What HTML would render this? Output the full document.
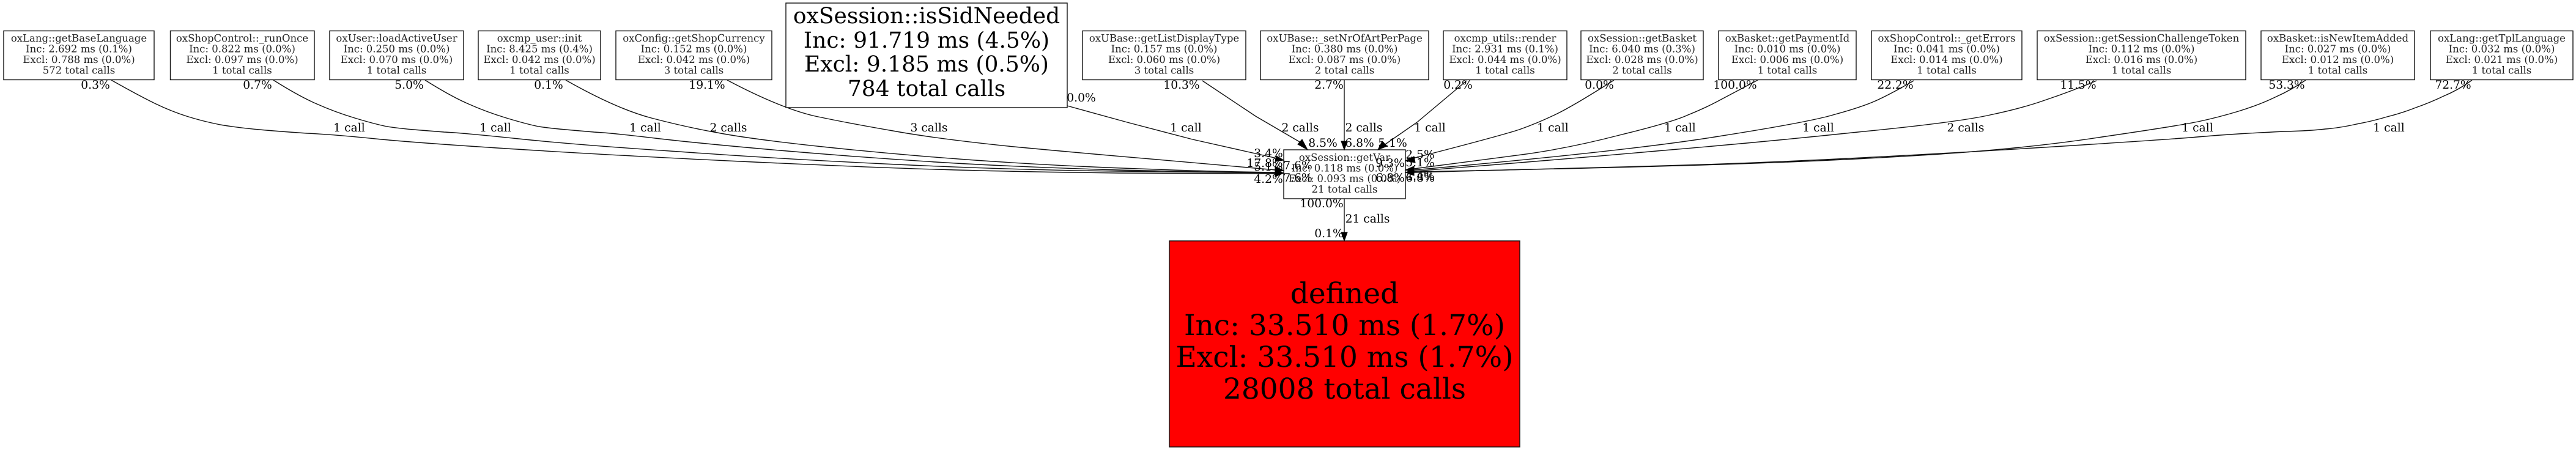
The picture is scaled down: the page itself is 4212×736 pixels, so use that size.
<!DOCTYPE html>
<html><head><meta charset="utf-8"><style>
html,body{margin:0;padding:0;background:#fff;width:4212px;height:736px;overflow:hidden}
svg{display:block}
text{font-family:"DejaVu Serif",serif;fill:#000;text-anchor:middle;text-rendering:geometricPrecision}
.n{font-size:16.5px;fill:#222}.e{font-size:18.7px}.b{font-size:36px}.d{font-size:47px}
rect{stroke:#111;stroke-width:1.4;fill:#fff}
path{fill:none;stroke:#111;stroke-width:1.4}
polygon{fill:#000;stroke:#000}
</style></head><body>
<svg width="4212" height="736" viewBox="0 0 4212 736" xmlns="http://www.w3.org/2000/svg">
<rect x="0" y="0" width="4212" height="736" style="fill:#fff;stroke:none"/>
<path d="M182,131 Q230,158 255,170 Q280,182 305,190 Q330,198 360,204 Q390,209 424,212 Q457,215 502,218 Q547,220 624,228 Q700,235 860,245 Q1020,255 1211,264 Q1403,273 1530,277 Q1658,281 1829,283 Q2000,284 2086,284"/>
<path d="M447,131 Q490,158 518,170 Q547,183 580,193 Q613,203 633,207 Q653,210 676,212 Q700,214 726,216 Q753,217 848,227 Q944,237 1110,248 Q1276,260 1467,269 Q1658,278 1829,280 Q2000,282 2086,283"/>
<path d="M695,131 Q738,158 766,170 Q795,183 828,193 Q861,203 881,207 Q901,210 925,212 Q948,214 971,216 Q995,217 1071,226 Q1148,235 1275,246 Q1403,257 1530,265 Q1658,273 1829,278 Q2000,282 2086,282"/>
<path d="M925,131 Q1008,178 1065,193 Q1122,208 1173,217 Q1224,227 1345,240 Q1467,253 1594,262 Q1722,271 1861,276 Q2000,281 2086,282"/>
<path d="M1189,131 Q1276,177 1333,190 Q1390,202 1460,214 Q1531,227 1658,240 Q1786,252 1893,261 Q2000,270 2086,278"/>
<path d="M1745,173 L1843,200 L1950,228 L2088,259"/>
<path d="M1966,132 L2053,190 L2130,235"/>
<path d="M2198,131 V232"/>
<path d="M2398,132 L2317,200 L2265,236"/>
<path d="M2639,131 Q2581,168 2550,184 Q2518,200 2484,212 Q2450,223 2310,259"/>
<path d="M2874,131 Q2825,157 2806,167 Q2787,177 2760,188 Q2734,200 2648,221 Q2563,243 2488,253 Q2413,263 2312,276"/>
<path d="M3129,132 Q3086,157 3062,167 Q3038,177 2997,188 Q2956,200 2810,223 Q2663,247 2312,278"/>
<path d="M3428,132 Q3385,150 3346,163 Q3307,177 3254,188 Q3201,200 3038,216 Q2876,233 2720,246 Q2563,260 2312,280"/>
<path d="M3770,131 Q3747,147 3720,159 Q3693,172 3660,182 Q3627,192 3594,199 Q3560,206 3437,224 Q3314,243 3157,253 Q3001,263 2813,269 Q2625,275 2312,281"/>
<path d="M4042,131 Q4020,147 3996,157 Q3973,168 3950,176 Q3927,185 3903,191 Q3880,198 3853,203 Q3827,209 3802,211 Q3777,214 3735,215 Q3693,217 3660,219 Q3627,221 3593,224 Q3560,227 3405,237 Q3251,247 3063,257 Q2876,267 2688,272 Q2500,277 2312,282"/>
<path d="M2198,325 V381"/>

<rect x="6" y="50.5" width="246" height="80"/>
<text class="n" x="129" y="68">oxLang::getBaseLanguage</text><text class="n" x="129" y="85.5">Inc: 2.692 ms (0.1%)</text><text class="n" x="129" y="103">Excl: 0.788 ms (0.0%)</text><text class="n" x="129" y="120.5">572 total calls</text>
<rect x="278.5" y="50.5" width="235.5" height="80"/>
<text class="n" x="396" y="68">oxShopControl::_runOnce</text><text class="n" x="396" y="85.5">Inc: 0.822 ms (0.0%)</text><text class="n" x="396" y="103">Excl: 0.097 ms (0.0%)</text><text class="n" x="396" y="120.5">1 total calls</text>
<rect x="539" y="50.5" width="219" height="80"/>
<text class="n" x="648.5" y="68">oxUser::loadActiveUser</text><text class="n" x="648.5" y="85.5">Inc: 0.250 ms (0.0%)</text><text class="n" x="648.5" y="103">Excl: 0.070 ms (0.0%)</text><text class="n" x="648.5" y="120.5">1 total calls</text>
<rect x="782" y="50.5" width="200" height="80"/>
<text class="n" x="882" y="68">oxcmp_user::init</text><text class="n" x="882" y="85.5">Inc: 8.425 ms (0.4%)</text><text class="n" x="882" y="103">Excl: 0.042 ms (0.0%)</text><text class="n" x="882" y="120.5">1 total calls</text>
<rect x="1007" y="50.5" width="255" height="80"/>
<text class="n" x="1134.5" y="68">oxConfig::getShopCurrency</text><text class="n" x="1134.5" y="85.5">Inc: 0.152 ms (0.0%)</text><text class="n" x="1134.5" y="103">Excl: 0.042 ms (0.0%)</text><text class="n" x="1134.5" y="120.5">3 total calls</text>
<rect x="1285" y="5" width="460" height="171"/>
<text class="b" x="1515" y="38">oxSession::isSidNeeded</text><text class="b" x="1515" y="78">Inc: 91.719 ms (4.5%)</text><text class="b" x="1515" y="117">Excl: 9.185 ms (0.5%)</text><text class="b" x="1515" y="157">784 total calls</text>
<rect x="1770" y="50.5" width="267" height="80"/>
<text class="n" x="1903.5" y="68">oxUBase::getListDisplayType</text><text class="n" x="1903.5" y="85.5">Inc: 0.157 ms (0.0%)</text><text class="n" x="1903.5" y="103">Excl: 0.060 ms (0.0%)</text><text class="n" x="1903.5" y="120.5">3 total calls</text>
<rect x="2061" y="50.5" width="275" height="80"/>
<text class="n" x="2198.5" y="68">oxUBase::_setNrOfArtPerPage</text><text class="n" x="2198.5" y="85.5">Inc: 0.380 ms (0.0%)</text><text class="n" x="2198.5" y="103">Excl: 0.087 ms (0.0%)</text><text class="n" x="2198.5" y="120.5">2 total calls</text>
<rect x="2360" y="50.5" width="202" height="80"/>
<text class="n" x="2461" y="68">oxcmp_utils::render</text><text class="n" x="2461" y="85.5">Inc: 2.931 ms (0.1%)</text><text class="n" x="2461" y="103">Excl: 0.044 ms (0.0%)</text><text class="n" x="2461" y="120.5">1 total calls</text>
<rect x="2585" y="50.5" width="200" height="80"/>
<text class="n" x="2685" y="68">oxSession::getBasket</text><text class="n" x="2685" y="85.5">Inc: 6.040 ms (0.3%)</text><text class="n" x="2685" y="103">Excl: 0.028 ms (0.0%)</text><text class="n" x="2685" y="120.5">2 total calls</text>
<rect x="2810" y="50.5" width="225" height="80"/>
<text class="n" x="2922.5" y="68">oxBasket::getPaymentId</text><text class="n" x="2922.5" y="85.5">Inc: 0.010 ms (0.0%)</text><text class="n" x="2922.5" y="103">Excl: 0.006 ms (0.0%)</text><text class="n" x="2922.5" y="120.5">1 total calls</text>
<rect x="3060" y="50.5" width="246" height="80"/>
<text class="n" x="3183" y="68">oxShopControl::_getErrors</text><text class="n" x="3183" y="85.5">Inc: 0.041 ms (0.0%)</text><text class="n" x="3183" y="103">Excl: 0.014 ms (0.0%)</text><text class="n" x="3183" y="120.5">1 total calls</text>
<rect x="3331" y="50.5" width="341" height="80"/>
<text class="n" x="3501.5" y="68">oxSession::getSessionChallengeToken</text><text class="n" x="3501.5" y="85.5">Inc: 0.112 ms (0.0%)</text><text class="n" x="3501.5" y="103">Excl: 0.016 ms (0.0%)</text><text class="n" x="3501.5" y="120.5">1 total calls</text>
<rect x="3697" y="50.5" width="251" height="80"/>
<text class="n" x="3822.5" y="68">oxBasket::isNewItemAdded</text><text class="n" x="3822.5" y="85.5">Inc: 0.027 ms (0.0%)</text><text class="n" x="3822.5" y="103">Excl: 0.012 ms (0.0%)</text><text class="n" x="3822.5" y="120.5">1 total calls</text>
<rect x="3974" y="50.5" width="233" height="80"/>
<text class="n" x="4090.5" y="68">oxLang::getTplLanguage</text><text class="n" x="4090.5" y="85.5">Inc: 0.032 ms (0.0%)</text><text class="n" x="4090.5" y="103">Excl: 0.021 ms (0.0%)</text><text class="n" x="4090.5" y="120.5">1 total calls</text>

<rect x="2099" y="245" width="199" height="80"/>
<text class="n" x="2198.5" y="263">oxSession::getVar</text><text class="n" x="2198.5" y="280.5">Inc: 0.118 ms (0.0%)</text><text class="n" x="2198.5" y="297.5">Excl: 0.093 ms (0.0%)</text><text class="n" x="2198.5" y="315">21 total calls</text>

<rect x="1912" y="394" width="573" height="337" style="fill:#f00"/>
<text class="d" x="2198.5" y="496">defined</text><text class="d" x="2198.5" y="548">Inc: 33.510 ms (1.7%)</text><text class="d" x="2198.5" y="600">Excl: 33.510 ms (1.7%)</text><text class="d" x="2198.5" y="652">28008 total calls</text>

<polygon points="2138,245 2122,236 2129,228"/>
<polygon points="2198,245 2193,231 2203,231"/>
<polygon points="2253,245 2260,231 2268,239"/>
<polygon points="2099,262 2085,264 2087,255"/>
<polygon points="2099,279 2085,282 2085,272"/>
<polygon points="2099,283 2085,278 2085,289"/>
<polygon points="2298,263 2312,256 2314,266"/>
<polygon points="2298,278 2312,272 2312,282"/>
<polygon points="2298,282 2312,277 2312,287"/>
<polygon points="2198,394 2193,380 2203,380"/>

<text class="e" x="156" y="145">0.3%</text><text class="e" x="421" y="145">0.7%</text><text class="e" x="669" y="145">5.0%</text><text class="e" x="897" y="145">0.1%</text><text class="e" x="1156" y="145">19.1%</text>
<text class="e" x="1768" y="166">0.0%</text><text class="e" x="1932" y="145">10.3%</text><text class="e" x="2173" y="145">2.7%</text><text class="e" x="2384" y="145">0.2%</text><text class="e" x="2615" y="145">0.0%</text>
<text class="e" x="2837" y="145">100.0%</text><text class="e" x="3099" y="145">22.2%</text><text class="e" x="3398" y="145">11.5%</text><text class="e" x="3739" y="145">53.3%</text><text class="e" x="4011" y="145">72.7%</text>

<text class="e" x="571" y="215">1 call</text><text class="e" x="810" y="215">1 call</text><text class="e" x="1055" y="215">1 call</text><text class="e" x="1191" y="215">2 calls</text><text class="e" x="1519" y="215">3 calls</text><text class="e" x="1939" y="215">1 call</text>
<text class="e" x="2126" y="215">2 calls</text><text class="e" x="2230" y="215">2 calls</text><text class="e" x="2338" y="215">1 call</text><text class="e" x="2539" y="215">1 call</text><text class="e" x="2747" y="215">1 call</text><text class="e" x="2973" y="215">1 call</text><text class="e" x="3214" y="215">2 calls</text><text class="e" x="3593" y="215">1 call</text><text class="e" x="3906" y="215">1 call</text>

<text class="e" x="2163" y="240">8.5%</text><text class="e" x="2223" y="240">6.8%</text><text class="e" x="2277" y="240">5.1%</text>
<text class="e" x="2074" y="257">3.4%</text><text class="e" x="2068" y="273">17.8%</text><text class="e" x="2074" y="279">5.1%</text><text class="e" x="2074" y="299">4.2%</text>
<text class="e" x="2122" y="277">7.6%</text><text class="e" x="2122" y="297">7.6%</text>
<text class="e" x="2273" y="273">9.3%</text><text class="e" x="2273" y="297">6.8%</text>
<text class="e" x="2322" y="259">2.5%</text><text class="e" x="2322" y="272">5.1%</text><text class="e" x="2322" y="294">4.4%</text><text class="e" x="2322" y="297">6.8%</text>
<text class="e" x="2161" y="339">100.0%</text><text class="e" x="2236" y="364">21 calls</text><text class="e" x="2173" y="388">0.1%</text>
</svg>
</body></html>
